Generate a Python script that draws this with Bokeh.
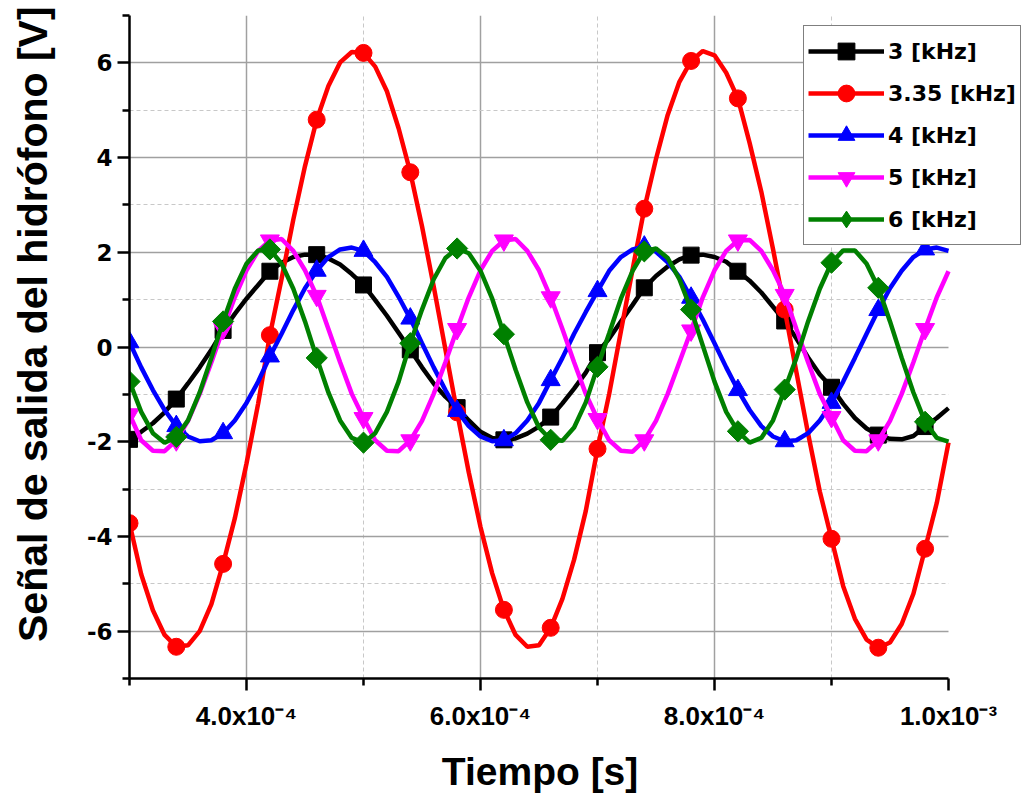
from math import pi

from bokeh.embed import file_html
from bokeh.models import (BoxAnnotation, CustomJSTickFormatter, FixedTicker,
                          Legend, LegendItem, Range1d)
from bokeh.plotting import figure
from bokeh.resources import INLINE

# Sample times (microseconds), one reading every 10 us from 300 us to 1000 us
tiempo_us = list(range(300, 1001, 10))
tiempo_s = [t * 1e-6 for t in tiempo_us]

# Hydrophone output voltage [V] for each excitation frequency
volt_3k = [
    -1.95, -1.79, -1.61, -1.38, -1.10, -0.77, -0.43, -0.06, 0.35, 0.70,
    1.02, 1.31, 1.60, 1.78, 1.90, 1.95, 1.95, 1.87, 1.74, 1.54,
    1.31, 0.99, 0.66, 0.30, -0.06, -0.43, -0.77, -1.05, -1.28, -1.55,
    -1.79, -1.92, -1.96, -1.93, -1.83, -1.68, -1.48, -1.19, -0.88, -0.54,
    -0.12, 0.18, 0.54, 0.89, 1.25, 1.50, 1.70, 1.85, 1.94, 1.95,
    1.90, 1.80, 1.60, 1.40, 1.15, 0.85, 0.55, 0.18, -0.22, -0.58,
    -0.85, -1.20, -1.50, -1.72, -1.86, -1.94, -1.95, -1.88, -1.68, -1.50,
    -1.29,
]
volt_335k = [
    -3.72, -4.80, -5.56, -6.08, -6.33, -6.30, -6.00, -5.43, -4.58, -3.62,
    -2.46, -1.19, 0.25, 1.44, 2.69, 3.82, 4.80, 5.51, 6.01, 6.23,
    6.21, 5.92, 5.40, 4.62, 3.69, 2.55, 1.28, -0.05, -1.38, -2.65,
    -3.80, -4.78, -5.55, -6.08, -6.33, -6.30, -5.93, -5.32, -4.49, -3.46,
    -2.15, -0.99, 0.33, 1.64, 2.92, 3.97, 4.90, 5.60, 6.04, 6.25,
    6.16, 5.79, 5.25, 4.31, 3.28, 2.07, 0.79, -0.53, -1.83, -3.05,
    -4.05, -5.05, -5.74, -6.18, -6.35, -6.24, -5.85, -5.21, -4.26, -3.29,
    -2.02,
]
volt_4k = [
    0.10, -0.43, -0.91, -1.33, -1.67, -1.89, -1.99, -1.97, -1.82, -1.55,
    -1.18, -0.73, -0.20, 0.28, 0.78, 1.24, 1.61, 1.90, 2.06, 2.10,
    2.03, 1.79, 1.48, 1.06, 0.60, 0.08, -0.43, -0.91, -1.35, -1.67,
    -1.89, -1.99, -1.97, -1.82, -1.55, -1.18, -0.70, -0.23, 0.28, 0.74,
    1.18, 1.61, 1.90, 2.06, 2.12, 2.01, 1.79, 1.48, 1.04, 0.58,
    0.08, -0.43, -0.91, -1.33, -1.67, -1.89, -1.99, -1.97, -1.82, -1.55,
    -1.18, -0.73, -0.23, 0.28, 0.78, 1.24, 1.61, 1.90, 2.06, 2.10,
    2.03,
]
volt_5k = [
    -1.42, -1.97, -2.19, -2.20, -1.97, -1.56, -0.99, -0.32, 0.38, 1.05,
    1.62, 2.03, 2.25, 2.28, 2.03, 1.62, 1.08, 0.38, -0.32, -0.99,
    -1.50, -1.97, -2.19, -2.20, -1.97, -1.56, -0.99, -0.32, 0.38, 1.05,
    1.62, 2.03, 2.25, 2.28, 2.03, 1.62, 1.05, 0.38, -0.32, -0.99,
    -1.52, -1.97, -2.19, -2.21, -1.97, -1.56, -0.99, -0.32, 0.35, 1.05,
    1.62, 2.03, 2.25, 2.26, 2.03, 1.62, 1.10, 0.38, -0.32, -0.99,
    -1.48, -1.97, -2.19, -2.20, -1.97, -1.56, -0.99, -0.32, 0.38, 1.05,
    1.60,
]
volt_6k = [
    -0.73, -1.37, -1.82, -2.02, -1.90, -1.55, -0.96, -0.23, 0.54, 1.23,
    1.76, 2.04, 2.06, 1.76, 1.23, 0.54, -0.23, -0.96, -1.55, -1.92,
    -2.02, -1.82, -1.37, -0.73, 0.08, 0.79, 1.43, 1.88, 2.08, 1.98,
    1.61, 1.02, 0.27, -0.48, -1.17, -1.70, -1.96, -1.98, -1.70, -1.17,
    -0.42, 0.29, 1.02, 1.61, 2.02, 2.08, 1.88, 1.43, 0.79, 0.03,
    -0.73, -1.37, -1.78, -2.02, -1.92, -1.55, -0.90, -0.23, 0.54, 1.23,
    1.78, 2.04, 2.04, 1.76, 1.25, 0.54, -0.23, -0.96, -1.58, -1.92,
    -2.00,
]

etiquetas = ["3 [kHz]", "3.35 [kHz]", "4 [kHz]", "5 [kHz]", "6 [kHz]"]
senales = [volt_3k, volt_335k, volt_4k, volt_5k, volt_6k]

# Axis ticks
x_major = [4e-4, 6e-4, 8e-4, 1e-3]
x_minor = [3e-4, 5e-4, 7e-4, 9e-4]
y_major = [-6, -4, -2, 0, 2, 4, 6]
y_minor = [-7, -5, -3, -1, 1, 3, 5, 7]

T_INI, T_FIN = 3e-4, 1e-3

# Styling per series: colour, marker, marker size, marker angle, legend marker
estilos = [
    ("#000000", "square", 16, 0.0, None),
    ("#FF0000", "circle", 17, 0.0, None),
    ("#0000FF", "triangle", 19, 0.0, None),
    ("#FF00FF", "inverted_triangle", 19, 0.0, None),
    ("#008000", "square", 15, pi / 4, "diamond"),
]

# The frame runs to the right edge of the canvas so that the legend can
# hang past the end of the time axis; the axis itself stops at T_FIN.
ANCHO, ALTO = 1026, 796
BORDE_IZQ, BORDE_INF, BORDE_SUP = 129, 118, 15
EJE_PX = 819  # pixel length of the time axis
t_extra = (T_FIN - T_INI) * (ANCHO - BORDE_IZQ - EJE_PX) / EJE_PX

p = figure(
    width=ANCHO, height=ALTO,
    x_range=Range1d(T_INI, T_FIN + t_extra), y_range=Range1d(-7, 7),
    output_backend="svg", toolbar_location=None,
    min_border_left=BORDE_IZQ, min_border_right=0,
    min_border_top=BORDE_SUP, min_border_bottom=BORDE_INF,
)
p.outline_line_color = None
p.background_fill_color = "white"
p.border_fill_color = "white"

# Grid: solid major lines, dashed minor lines
p.xgrid.ticker = FixedTicker(ticks=[4e-4, 6e-4, 8e-4], minor_ticks=[5e-4, 7e-4, 9e-4])
p.ygrid.ticker = FixedTicker(ticks=y_major, minor_ticks=[-5, -3, -1, 1, 3, 5])
for g in (p.xgrid[0], p.ygrid[0]):
    g.grid_line_color = "#a0a0a0"
    g.grid_line_width = 1.5
    g.minor_grid_line_color = "#c8c8c8"
    g.minor_grid_line_width = 1
    g.minor_grid_line_dash = "4 3"

# blank strip past the end of the time axis (hides the grid there)
p.add_layout(BoxAnnotation(left=T_FIN, fill_color="white", fill_alpha=1.0,
                           line_alpha=0.0, level="underlay"))

xa = p.xaxis[0]
ya = p.yaxis[0]
xa.ticker = FixedTicker(ticks=x_major, minor_ticks=x_minor)
ya.ticker = FixedTicker(ticks=y_major, minor_ticks=y_minor)
xa.bounds = (T_INI, T_FIN)

xa.formatter = CustomJSTickFormatter(code="""
const sup = {"-": "\u207b", "0": "\u2070", "1": "\u00b9", "2": "\u00b2", "3": "\u00b3",
             "4": "\u2074", "5": "\u2075", "6": "\u2076", "7": "\u2077", "8": "\u2078", "9": "\u2079"};
const e = Math.floor(Math.log10(Math.abs(tick)) + 1e-9);
const m = tick / Math.pow(10, e);
const es = String(e).split("").map(c => sup[c]).join("");
return m.toFixed(1) + "x10" + es;
""")
ya.formatter = CustomJSTickFormatter(code="return tick.toFixed(0);")

for ax in (xa, ya):
    ax.axis_line_color = "black"
    ax.axis_line_width = 2.5
    ax.major_tick_line_color = "black"
    ax.major_tick_line_width = 2.5
    ax.minor_tick_line_color = "black"
    ax.minor_tick_line_width = 2.5
    ax.major_tick_in = 0
    ax.major_tick_out = 12
    ax.minor_tick_in = 0
    ax.minor_tick_out = 7
    ax.major_label_text_color = "black"
    ax.major_label_text_font_style = "bold"
    ax.axis_label_text_font = "Liberation Sans"
    ax.axis_label_text_font_style = "bold"
    ax.axis_label_text_color = "black"

xa.major_label_text_font = "Liberation Sans"
xa.major_label_text_font_size = "26px"
xa.major_label_standoff = 10
# trailing no-break spaces keep the title centred under the time axis
# rather than under the whole (wider) frame
xa.axis_label = "Tiempo [s]" + "\u00a0" * 7
xa.axis_label_text_font_size = "39px"
xa.axis_label_standoff = 16

ya.major_label_text_font = "DejaVu Sans"
ya.major_label_text_font_size = "23px"
ya.major_label_standoff = 5
# leading no-break spaces lift the centred title a little towards the top
ya.axis_label = "\u00a0" * 4 + "Señal de salida del hidrófono [V]"
ya.axis_label_text_font_size = "41px"
ya.axis_label_standoff = 28

nan = float("nan")
items = []
for etiqueta, volts, (color, marca, tam, ang, marca_ley) in zip(etiquetas, senales, estilos):
    linea = p.line(tiempo_s, volts, line_color=color, line_width=4.5)
    puntos = p.scatter(tiempo_s[::4], volts[::4], marker=marca, size=tam,
                       angle=ang, fill_color=color, line_color=color)
    if marca_ley is None:
        muestra = puntos
    else:
        # legend sample drawn with the upright diamond symbol (no visible point)
        muestra = p.scatter([nan], [nan], marker=marca_ley, size=tam,
                            fill_color=color, line_color=color)
    items.append(LegendItem(label=etiqueta, renderers=[linea, muestra]))

legend = Legend(
    items=items, location=(674, 433),
    glyph_width=76, glyph_height=42, label_height=42,
    spacing=0, padding=4, margin=0, label_standoff=4,
    label_text_font="DejaVu Sans", label_text_font_style="bold",
    label_text_font_size="22px", label_text_color="black",
    border_line_color="black", border_line_width=1.5,
    background_fill_color="white", background_fill_alpha=1.0,
)
p.add_layout(legend)

open("out.html", "w").write(file_html(p, INLINE))
